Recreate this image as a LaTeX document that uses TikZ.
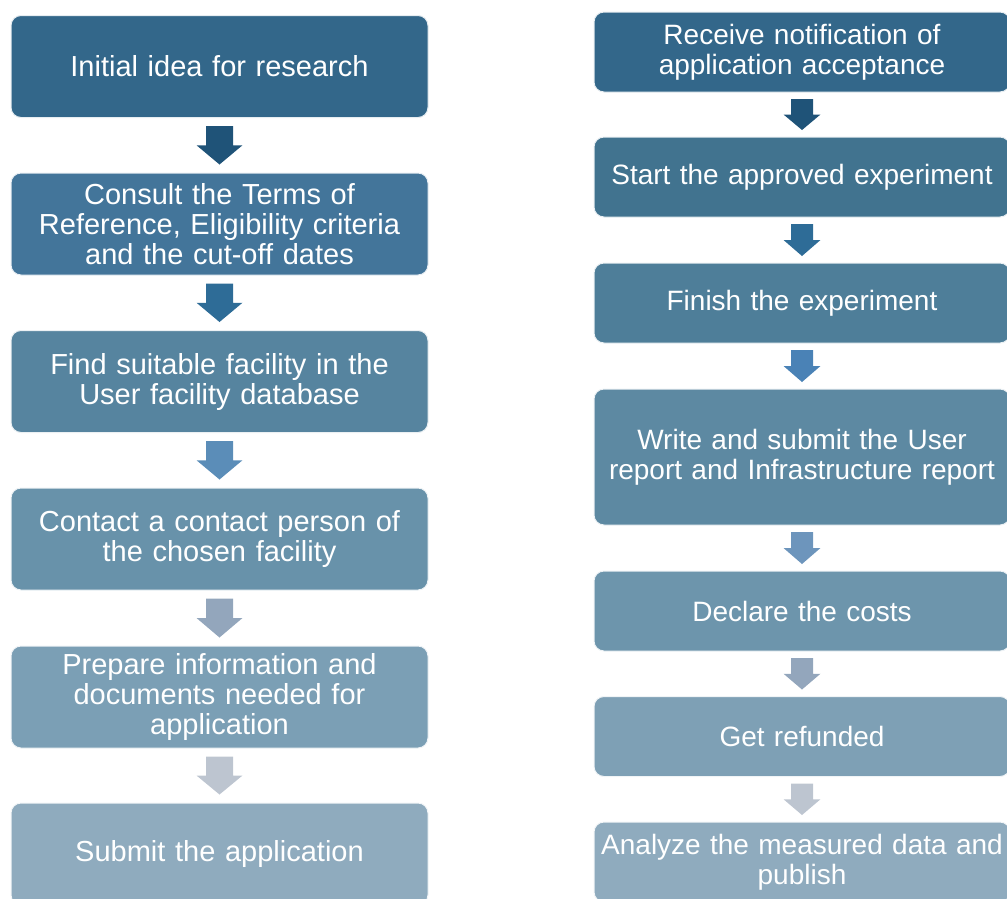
\documentclass[tikz,border=0pt]{standalone}
\usepackage{fontspec}
\setmainfont{Liberation Sans}
\usetikzlibrary{calc}
\definecolor{bA}{HTML}{33678A}
\definecolor{bB}{HTML}{43759A}
\definecolor{bC}{HTML}{56849F}
\definecolor{bD}{HTML}{6892AA}
\definecolor{bE}{HTML}{7B9FB5}
\definecolor{bF}{HTML}{8FABBE}
\definecolor{rA}{HTML}{33678A}
\definecolor{rB}{HTML}{41738F}
\definecolor{rC}{HTML}{4E7E99}
\definecolor{rD}{HTML}{5D89A2}
\definecolor{rE}{HTML}{6D95AC}
\definecolor{rF}{HTML}{7EA0B5}
\definecolor{rG}{HTML}{8FABBE}
\definecolor{aA}{HTML}{1F5378}
\definecolor{aB}{HTML}{2E6C97}
\definecolor{aC}{HTML}{4A82B6}
\definecolor{aD}{HTML}{5B8DB8}
\definecolor{aE}{HTML}{6D95BC}
\definecolor{aF}{HTML}{93A6BC}
\definecolor{aG}{HTML}{BDC5D0}
\tikzset{
  stepbox/.style={rounded corners=10pt, draw=#1!12, line width=1pt, fill=#1,
    text=white, align=center, inner sep=0pt},
  leftbox/.style={stepbox=#1, minimum width=417pt, minimum height=102pt, text width=410pt,
    font=\fontsize{29}{30}\selectfont},
  rightbox/.style={stepbox=#1, minimum width=416pt, minimum height=80pt, text width=410pt,
    font=\fontsize{28}{30}\selectfont},
}
\newcommand\flowarrow[6]{% from, to, gap, shaft half, head half, colour
  \coordinate (fa-t) at ($(#1.south)+(0,-#3)$);
  \coordinate (fa-b) at ($(#2.north)+(0,#3)$);
  \coordinate (fa-m) at ($(fa-t)!0.5!(fa-b)$);
  \fill[#6] ($(fa-t)+(-#4,0)$) -- ($(fa-t)+(#4,0)$) -- ($(fa-m)+(#4,0)$) -- ($(fa-m)+(#5,0)$)
    -- (fa-b) -- ($(fa-m)+(-#5,0)$) -- ($(fa-m)+(-#4,0)$) -- cycle;
}
\begin{document}
\begin{tikzpicture}[x=1pt,y=-1pt]
\useasboundingbox (0,0) rectangle (1007,898);
\clip (0,0) rectangle (1007,898);
% left column
\node[leftbox=bA] (l1) at (219.5,66.5) {\raisebox{1.5pt}{Initial idea for research}};
\node[leftbox=bB] (l2) at (219.5,224) {Consult the Terms of\\Reference, Eligibility criteria\\and the cut-off dates};
\node[leftbox=bC] (l3) at (219.5,381.5) {Find suitable facility in the\\User facility database};
\node[leftbox=bD] (l4) at (219.5,539) {Contact a contact person of\\the chosen facility};
\node[leftbox=bE] (l5) at (219.5,697) {Prepare information and\\documents needed for\\application};
\node[leftbox=bF] (l6) at (219.5,854) {Submit the application};
% right column
\node[rightbox=rA] (r1) at (802,52) {Receive notification of\\application acceptance};
\node[rightbox=rB] (r2) at (802,177) {Start the approved experiment};
\node[rightbox=rC] (r3) at (802,303) {Finish the experiment};
\node[rightbox=rD, minimum height=136pt] (r4) at (802,457) {Write and submit the User\\report and Infrastructure report};
\node[rightbox=rE] (r5) at (802,611) {Declare the costs};
\node[rightbox=rF] (r6) at (802,736.5) {Get refunded};
\node[rightbox=rG] (r7) at (802,862) {Analyze the measured data and\\publish};
% arrows left
\flowarrow{l1}{l2}{8pt}{13.5pt}{23pt}{aA}
\flowarrow{l2}{l3}{8pt}{13.5pt}{23pt}{aB}
\flowarrow{l3}{l4}{8pt}{13.5pt}{23pt}{aD}
\flowarrow{l4}{l5}{8pt}{13.5pt}{23pt}{aF}
\flowarrow{l5}{l6}{8pt}{13.5pt}{23pt}{aG}
% arrows right
\flowarrow{r1}{r2}{6.5pt}{11pt}{18.5pt}{aA}
\flowarrow{r2}{r3}{6.5pt}{11pt}{18.5pt}{aB}
\flowarrow{r3}{r4}{6.5pt}{11pt}{18.5pt}{aC}
\flowarrow{r4}{r5}{6.5pt}{11pt}{18.5pt}{aE}
\flowarrow{r5}{r6}{6.5pt}{11pt}{18.5pt}{aF}
\flowarrow{r6}{r7}{6.5pt}{11pt}{18.5pt}{aG}
\end{tikzpicture}
\end{document}
